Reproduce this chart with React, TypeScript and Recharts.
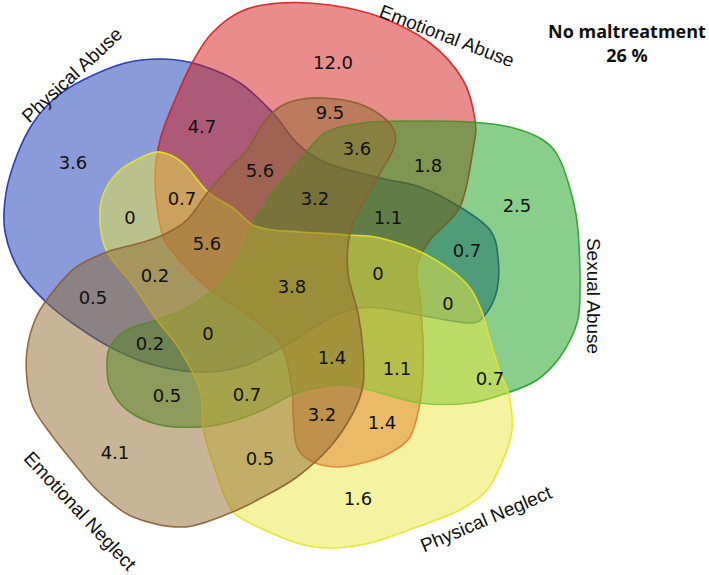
import React from 'react';
import { ScatterChart, Scatter, XAxis, YAxis } from 'recharts';

// ---- Data ----
const setNames = ['Physical Abuse', 'Emotional Abuse', 'Sexual Abuse', 'Physical Neglect', 'Emotional Neglect'];
const noMaltreatmentLabel = 'No maltreatment';
const noMaltreatmentValue = '26 %';

// Region percentages (strings as printed)
const regionValues = [
  '3.6', '4.7', '12.0', '9.5', '3.6', '1.8', '5.6', '3.2', '0.7', '0', '5.6', '1.1', '2.5', '0.7',
  '0.2', '0.5', '3.8', '0', '0', '0', '0.2', '1.4', '1.1', '0.7', '0.5', '0.7', '3.2', '1.4', '4.1', '0.5', '1.6',
];

// ---- Layout (diagram coordinate space) ----
const regionAnchors: [number, number][] = [
  [73, 162], [202, 126], [333, 62], [330, 112], [357, 148], [428, 165], [260, 170], [315, 198], [182, 198], [130, 217],
  [207, 243], [388, 217], [517, 205], [467, 250], [155, 275], [93, 297], [292, 286], [378, 273], [448, 303], [208, 333],
  [150, 343], [332, 357], [397, 368], [490, 378], [167, 395], [247, 394], [322, 414], [382, 422], [115, 452], [260, 458],
  [358, 498],
];

const setLabelAnchors: [number, number, number][] = [
  [72, 75, -43],
  [447, 36, 21],
  [593, 296, 90],
  [486, 519, -23],
  [80, 511, 47],
];

const outlinePhysicalAbuse: [number, number][] = [
  [163, 59], [200, 65], [240, 83], [273, 113], [297, 143], [327, 163], [380, 178], [420, 187], [460, 207], [490, 230],
  [498, 257], [497, 290], [485, 315], [470, 323], [430, 317], [380, 308], [355, 309], [330, 318], [283, 347], [240, 367],
  [197, 372], [150, 364], [110, 347], [75, 325], [47, 303], [20, 272], [5, 232], [6, 193], [17, 155], [33, 123],
  [55, 98], [83, 80], [125, 63],
];
const outlineEmotionalAbuse: [number, number][] = [
  [280, 3], [330, 5], [380, 17], [430, 43], [463, 80], [475, 120], [473, 150], [460, 207], [430, 240], [417, 267],
  [420, 300], [423, 340], [423, 370], [420, 403], [410, 437], [390, 453], [370, 461], [340, 467], [313, 462], [297, 447],
  [293, 413], [292, 390], [280, 343], [240, 310], [210, 290], [177, 257], [162, 233], [155, 183], [160, 140], [175, 100],
  [192, 63], [212, 33], [242, 11],
];
const outlineSexualAbuse: [number, number][] = [
  [470, 122], [510, 127], [543, 140], [560, 160], [573, 200], [578, 230], [580, 290], [577, 323], [560, 357], [537, 380],
  [507, 393], [470, 403], [420, 403], [370, 390], [340, 385], [297, 393], [263, 410], [230, 422], [200, 427], [160, 425],
  [127, 410], [110, 387], [107, 365], [110, 347], [127, 330], [157, 320], [183, 310], [210, 293], [223, 280], [240, 253],
  [253, 223], [280, 183], [300, 160], [325, 133], [363, 123], [413, 121],
];
const outlinePhysicalNeglect: [number, number][] = [
  [160, 152], [183, 163], [208, 192], [233, 208], [253, 225], [273, 230], [300, 232], [347, 235], [380, 238], [423, 253],
  [463, 280], [480, 307], [490, 340], [500, 372], [509, 395], [512, 430], [503, 460], [487, 490], [460, 510], [417, 527],
  [370, 543], [330, 548], [297, 543], [250, 523], [230, 507], [213, 463], [203, 427], [200, 390], [180, 350], [157, 320],
  [133, 285], [107, 252], [100, 223], [103, 195], [118, 172], [140, 158],
];
const outlineEmotionalNeglect: [number, number][] = [
  [297, 100], [323, 98], [357, 103], [383, 117], [395, 133], [393, 150], [380, 173], [365, 200], [350, 233], [348, 273],
  [358, 313], [363, 350], [363, 385], [353, 413], [330, 447], [297, 477], [263, 497], [230, 513], [183, 527], [133, 517],
  [100, 493], [77, 467], [50, 433], [33, 407], [27, 380], [27, 350], [35, 320], [48, 298], [75, 268], [107, 252],
  [140, 243], [163, 235], [187, 220], [208, 192], [230, 167], [247, 150], [262, 125], [278, 108],
];

const outlines = [
  outlinePhysicalAbuse,
  outlineEmotionalAbuse,
  outlineSexualAbuse,
  outlinePhysicalNeglect,
  outlineEmotionalNeglect,
];

// ---- Styles ----
const setFills = ['#1337B1', '#D11919', '#139F17', '#EBE741', '#91692D'];
const setStrokes = ['#1E32AA', '#D81E1E', '#28A028', '#E6E628', '#8C5F2D'];

const W = 709;
const H = 575;

function closedSpline(pts: { x: number; y: number }[]): string {
  const n = pts.length;
  if (n < 3) return '';
  let d = `M${pts[0].x},${pts[0].y}`;
  for (let i = 0; i < n; i++) {
    const p0 = pts[(i - 1 + n) % n];
    const p1 = pts[i];
    const p2 = pts[(i + 1) % n];
    const p3 = pts[(i + 2) % n];
    const c1x = p1.x + (p2.x - p0.x) / 6;
    const c1y = p1.y + (p2.y - p0.y) / 6;
    const c2x = p2.x - (p3.x - p1.x) / 6;
    const c2y = p2.y - (p3.y - p1.y) / 6;
    d += `C${c1x},${c1y},${c2x},${c2y},${p2.x},${p2.y}`;
  }
  return d + 'Z';
}

const hidden = () => <g />;

export default function App() {
  const regionData = regionValues.map((v, i) => ({ x: regionAnchors[i][0], y: regionAnchors[i][1], label: v }));
  const setLabelData = setNames.map((name, i) => ({
    x: setLabelAnchors[i][0],
    y: setLabelAnchors[i][1],
    angle: setLabelAnchors[i][2],
    label: name,
  }));
  const noMalData = [{ x: 627, y: 31, label: noMaltreatmentLabel }, { x: 627, y: 55, label: noMaltreatmentValue }];

  return (
    <div style={{ position: 'absolute', left: 0, top: 0, width: W, height: H, background: '#fff' }}>
      <ScatterChart width={W} height={H} margin={{ top: 0, right: 0, bottom: 0, left: 0 }}>
        <XAxis type="number" dataKey="x" domain={[0, W]} hide allowDataOverflow />
        <YAxis type="number" dataKey="y" domain={[0, H]} reversed hide allowDataOverflow />
        {outlines.map((pts, i) => (
          <Scatter
            key={setNames[i]}
            name={setNames[i]}
            data={pts.map(([x, y]) => ({ x, y }))}
            isAnimationActive={false}
            shape={hidden}
            lineType="joint"
            line={(props: any) => (
              <path
                d={closedSpline(props.points)}
                fill={setFills[i]}
                fillOpacity={0.5}
                stroke={setStrokes[i]}
                strokeWidth={1.6}
                strokeOpacity={0.9}
              />
            )}
          />
        ))}
        <Scatter
          name="regions"
          data={regionData}
          isAnimationActive={false}
          shape={(p: any) => (
            <text
              x={p.cx}
              y={p.cy}
              textAnchor="middle"
              dominantBaseline="central"
              style={{ fontFamily: "'DejaVu Sans', Verdana, sans-serif", fontSize: 18 }}
              fill="#111"
            >
              {p.payload.label}
            </text>
          )}
        />
        <Scatter
          name="setLabels"
          data={setLabelData}
          isAnimationActive={false}
          shape={(p: any) => (
            <text
              x={p.cx}
              y={p.cy}
              textAnchor="middle"
              dominantBaseline="central"
              transform={`rotate(${p.payload.angle},${p.cx},${p.cy})`}
              style={{ fontFamily: "'Liberation Sans', Arial, sans-serif", fontSize: 19 }}
              fill="#111"
            >
              {p.payload.label}
            </text>
          )}
        />
        <Scatter
          name="noMaltreatment"
          data={noMalData}
          isAnimationActive={false}
          shape={(p: any) => (
            <text
              x={p.cx}
              y={p.cy}
              textAnchor="middle"
              dominantBaseline="central"
              style={{ fontFamily: "'Open Sans', sans-serif", fontWeight: 700, fontSize: 18 }}
              fill="#111"
            >
              {p.payload.label}
            </text>
          )}
        />
      </ScatterChart>
    </div>
  );
}
